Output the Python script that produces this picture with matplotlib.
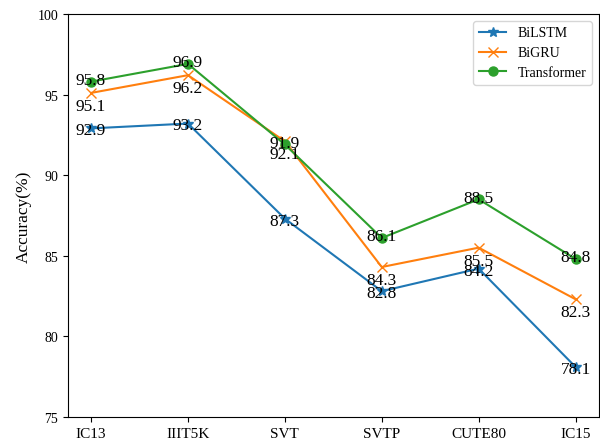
import matplotlib
matplotlib.use("Agg")
import matplotlib.pyplot as plt
import numpy as np

plt.rcParams['font.family'] = ['Liberation Serif', 'DejaVu Serif']

DATASETS = ["IC13", "IIIT5K", "SVT", "SVTP", "CUTE80", "IC15"]
BILSTM = [92.9, 93.2, 87.3, 82.8, 84.2, 78.1]
BIGRU = [95.1, 96.2, 92.1, 84.3, 85.5, 82.3]
TRANSFORMER = [95.8, 96.9, 91.9, 86.1, 88.5, 84.8]

fig = plt.figure(figsize=(6, 4.39), dpi=100)
ax = fig.add_axes([0.113, 0.048, 0.885, 0.918])
x = np.arange(len(DATASETS))

ax.plot(x, BILSTM, marker='*', markersize=7.5, label='BiLSTM')
ax.plot(x, BIGRU, marker='x', markersize=7.5, label='BiGRU')
ax.plot(x, TRANSFORMER, marker='o', markersize=6.5, label='Transformer')

# value labels
for i in range(len(DATASETS)):
    ax.text(x[i], BILSTM[i] - 0.12, str(BILSTM[i]), ha='center', va='center', fontsize=12.5)
    ax.text(x[i], BIGRU[i] - 0.8, str(BIGRU[i]), ha='center', va='center', fontsize=12.5)
    ax.text(x[i], TRANSFORMER[i] + 0.1, str(TRANSFORMER[i]), ha='center', va='center', fontsize=12.5)

ax.set_xticks(x)
ax.set_xticklabels(DATASETS, fontsize=11)
ax.set_xlim(-0.24, 5.24)
ax.set_ylim(75, 100)
ax.set_yticks([75, 80, 85, 90, 95, 100])
ax.tick_params(axis='y', labelsize=10)
ax.set_ylabel('Accuracy(%)', fontsize=12.5)
ax.legend(loc='upper right', fontsize=10)

plt.savefig('out.png', dpi=100)
